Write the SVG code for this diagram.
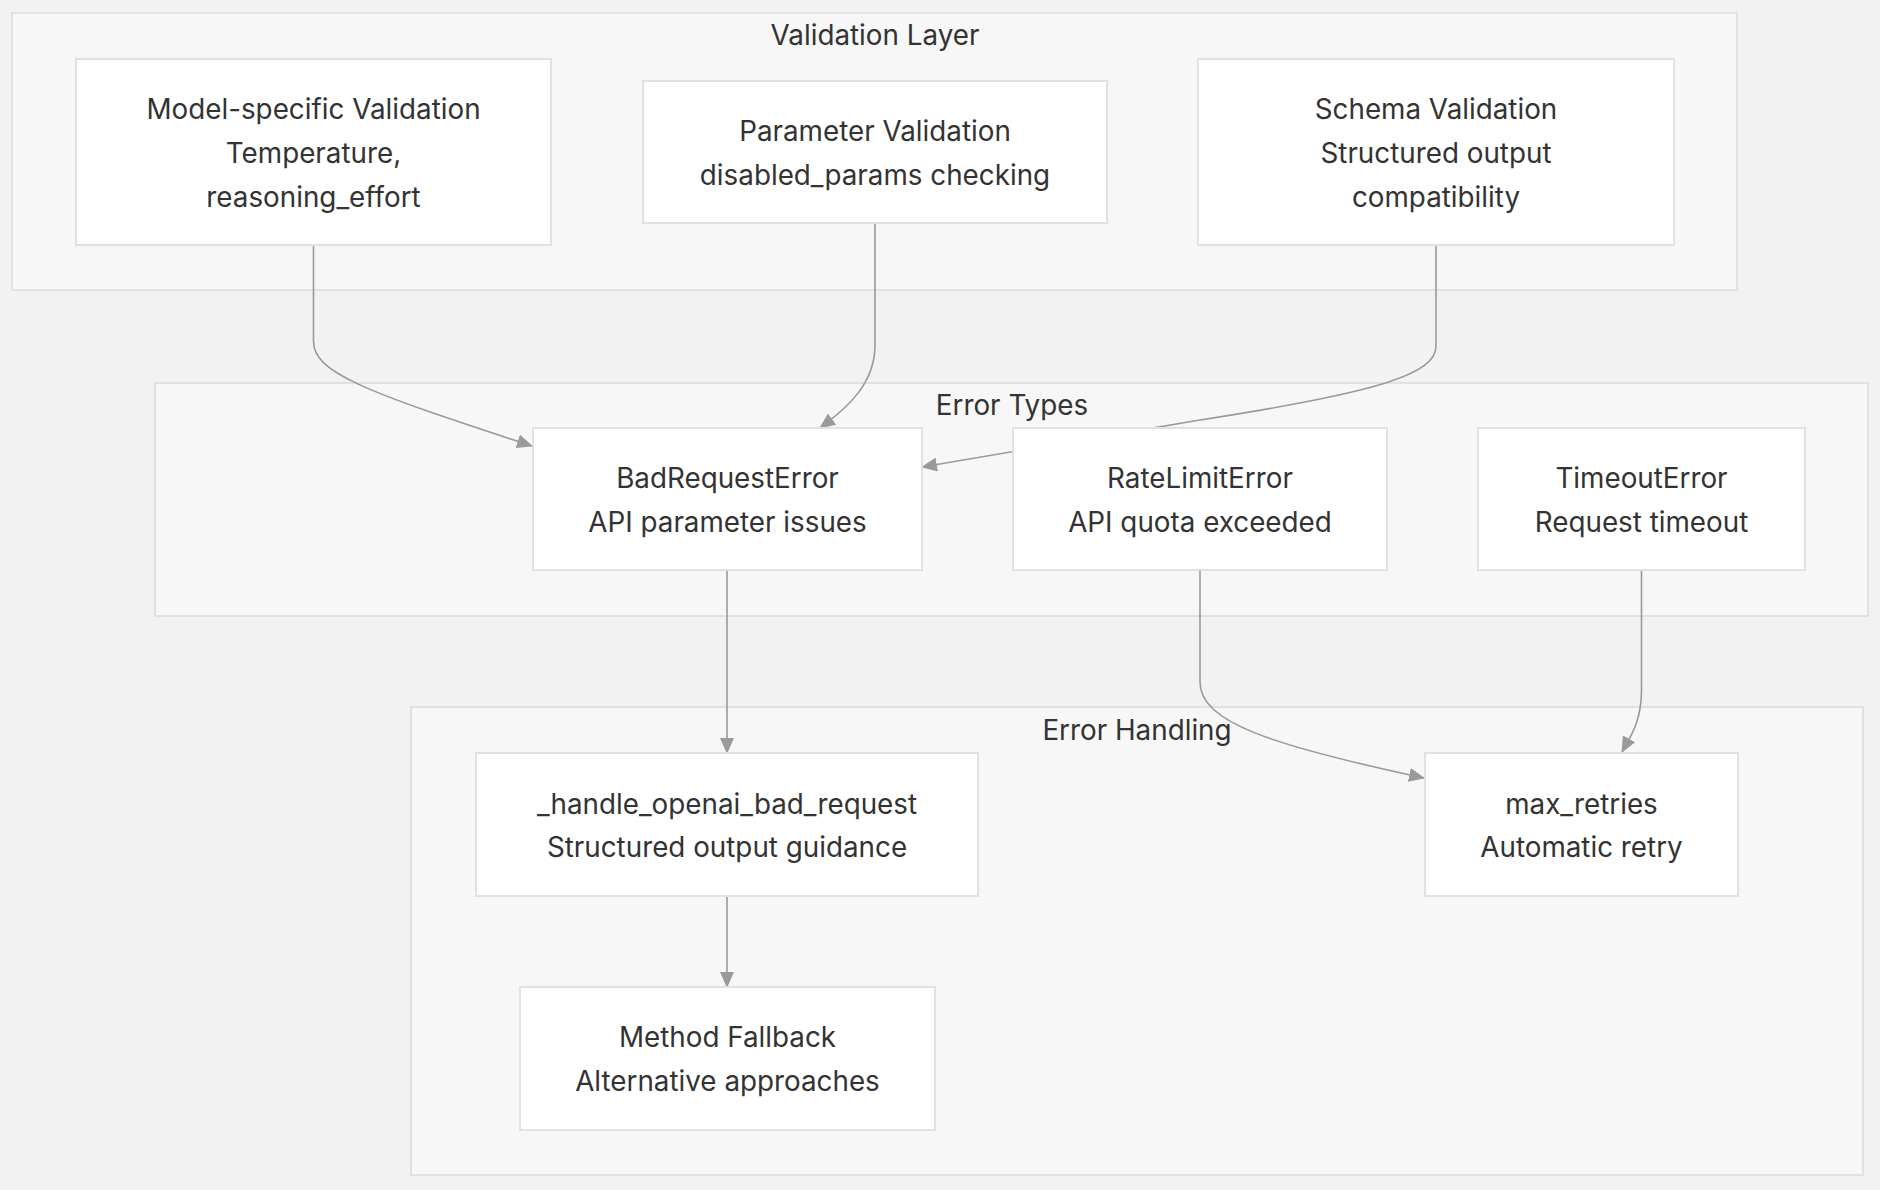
<svg xmlns="http://www.w3.org/2000/svg" width="1880" height="1190" viewBox="0 0 1880 1190">
<style>
.bg{fill:#f3f2f2}
.cl{fill:#f7f7f7;stroke:#e1e1e1;stroke-width:2}
.nd{fill:#ffffff;stroke:#e1e1e1;stroke-width:2}
.t{font-family:Inter,"Liberation Sans",sans-serif;font-size:27.8px;fill:#333333;text-anchor:middle;dominant-baseline:central}
.e{fill:none;stroke:#9a9a9a;stroke-width:1.6}
</style>
<defs>
<marker id="ah" markerUnits="userSpaceOnUse" markerWidth="16" markerHeight="14" refX="15" refY="7" orient="auto">
<path d="M0,0 L16,7 L0,14 z" fill="#9a9a9a"/>
</marker>
</defs>
<rect class="bg" x="0" y="0" width="1880" height="1190"/>
<g id="clusters">
<g id="cluster-validation">
<rect class="cl" x="12" y="13" width="1725" height="277"/>
<text class="t" x="875" y="35">Validation Layer</text>
</g>
<g id="cluster-errortypes">
<rect class="cl" x="155" y="383" width="1713" height="233"/>
<text class="t" x="1012" y="405">Error Types</text>
</g>
<g id="cluster-handling">
<rect class="cl" x="411" y="707" width="1452" height="468"/>
<text class="t" x="1137" y="730">Error Handling</text>
</g>
</g>
<g id="connectors">
<path class="e" d="M313.5,246 L313.5,341 C313.5,372 360,390 532,446" marker-end="url(#ah)"/>
<path class="e" d="M875,223 L875,345 C875,382 850,406 820,428" marker-end="url(#ah)"/>
<path class="e" d="M1436,245 L1436,346 C1436,374 1380,392 1200,420 L922,467" marker-end="url(#ah)"/>
<path class="e" d="M727,571 L727,753" marker-end="url(#ah)"/>
<path class="e" d="M1200,571 L1200,682 C1200,722 1270,745 1424,778" marker-end="url(#ah)"/>
<path class="e" d="M1641.5,571 L1641.5,690 C1641.5,722 1630,737 1622,752" marker-end="url(#ah)"/>
<path class="e" d="M727,896 L727,987" marker-end="url(#ah)"/>
</g>
<g id="node-model">
<rect class="nd" x="76" y="59" width="475" height="186"/>
<text class="t" x="313.5" y="109">Model-specific Validation</text>
<text class="t" x="313.5" y="153">Temperature,</text>
<text class="t" x="313.5" y="197">reasoning_effort</text>
</g>
<g id="node-param">
<rect class="nd" x="643" y="81" width="464" height="142"/>
<text class="t" x="875" y="131">Parameter Validation</text>
<text class="t" x="875" y="175">disabled_params checking</text>
</g>
<g id="node-schema">
<rect class="nd" x="1198" y="59" width="476" height="186"/>
<text class="t" x="1436" y="109">Schema Validation</text>
<text class="t" x="1436" y="153">Structured output</text>
<text class="t" x="1436" y="197">compatibility</text>
</g>
<g id="node-badrequest">
<rect class="nd" x="533" y="428" width="389" height="142"/>
<text class="t" x="727.5" y="478">BadRequestError</text>
<text class="t" x="727.5" y="522">API parameter issues</text>
</g>
<g id="node-ratelimit">
<rect class="nd" x="1013" y="428" width="374" height="142"/>
<text class="t" x="1200" y="478">RateLimitError</text>
<text class="t" x="1200" y="522">API quota exceeded</text>
</g>
<g id="node-timeout">
<rect class="nd" x="1478" y="428" width="327" height="142"/>
<text class="t" x="1641.5" y="478">TimeoutError</text>
<text class="t" x="1641.5" y="522">Request timeout</text>
</g>
<g id="node-handle">
<rect class="nd" x="476" y="753" width="502" height="143"/>
<text class="t" x="727" y="804">_handle_openai_bad_request</text>
<text class="t" x="727" y="847">Structured output guidance</text>
</g>
<g id="node-retries">
<rect class="nd" x="1425" y="753" width="313" height="143"/>
<text class="t" x="1581.5" y="804">max_retries</text>
<text class="t" x="1581.5" y="847">Automatic retry</text>
</g>
<g id="node-fallback">
<rect class="nd" x="520" y="987" width="415" height="143"/>
<text class="t" x="727.5" y="1037">Method Fallback</text>
<text class="t" x="727.5" y="1081">Alternative approaches</text>
</g>
</svg>
